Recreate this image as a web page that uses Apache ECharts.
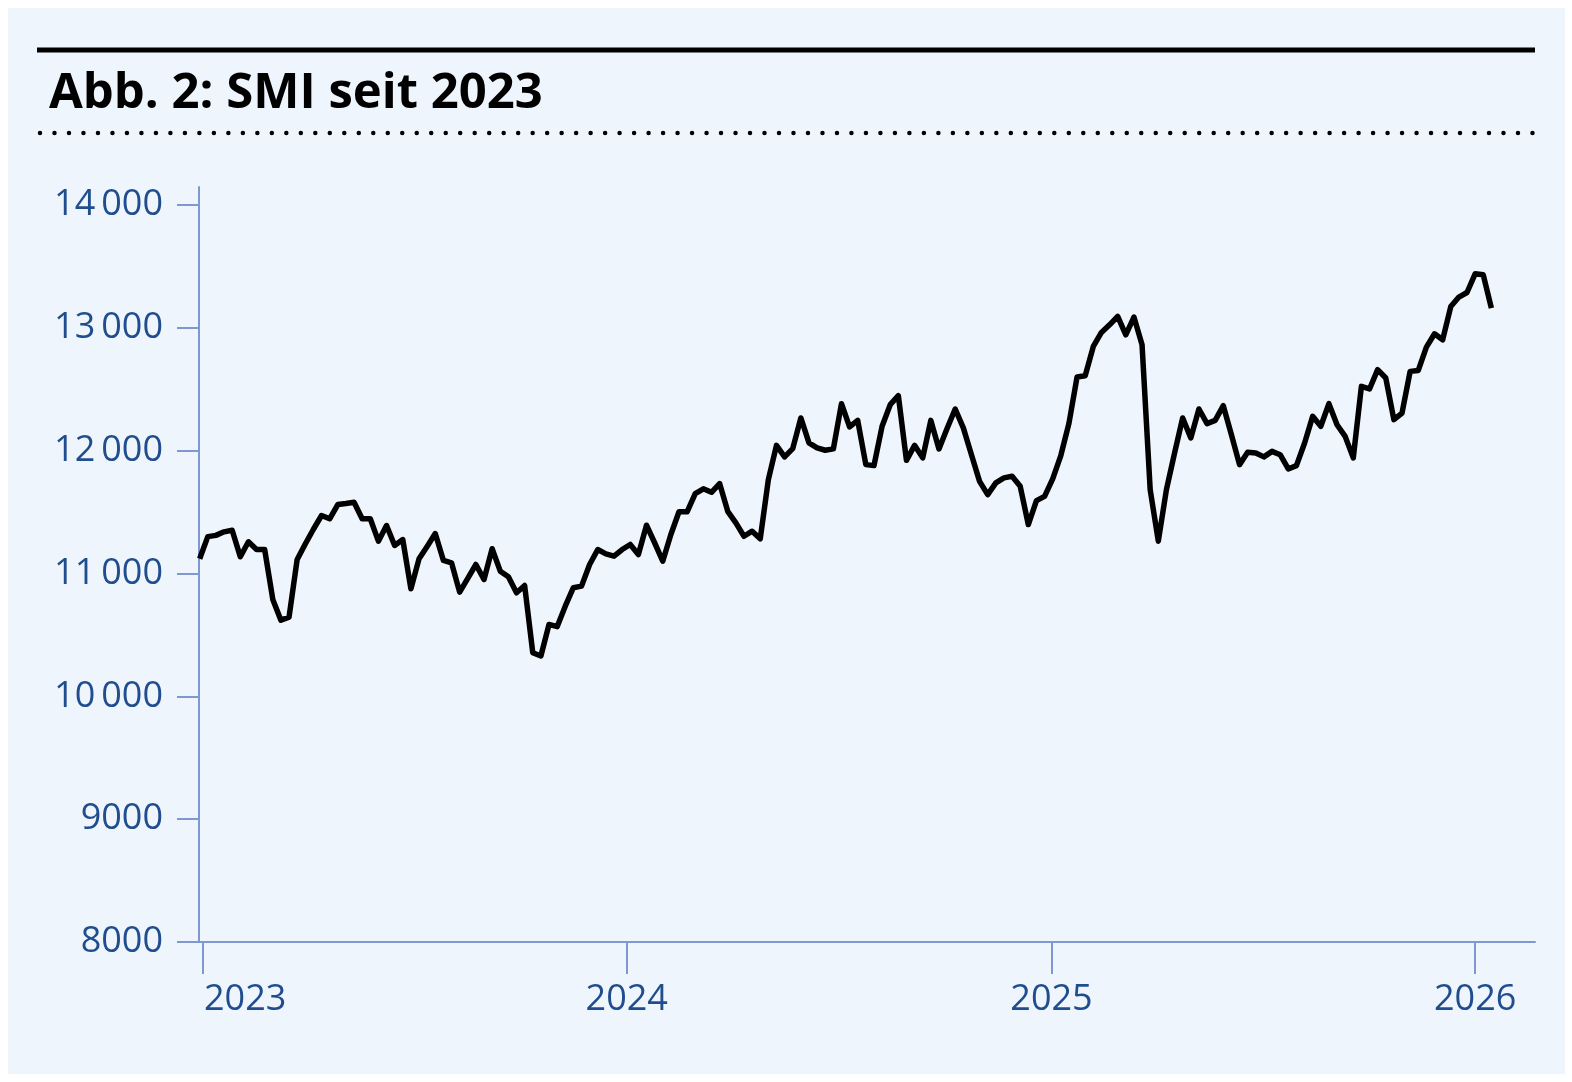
<!DOCTYPE html>
<html>
<head>
<meta charset="utf-8">
<script src="https://cdn.jsdelivr.net/npm/echarts@6/dist/echarts.min.js"></script>
<style>
  html, body { margin: 0; padding: 0; background: #ffffff; }
  #panel { position: absolute; left: 8px; top: 8px; width: 1557px; height: 1066px; background: #eff5fc; }
  #chart { position: absolute; left: 0; top: 0; width: 1572px; height: 1082px; }
</style>
</head>
<body>
<div id="panel"></div>
<div id="chart"></div>
<script>
// ---- data (weekly SMI closes) ----
const titleText = 'Abb. 2: SMI seit 2023';
const firstWeek = [2022, 11, 29]; // year, monthIndex, day of first weekly point
const smiValues = [
  11120, 11300, 11310, 11339, 11352, 11136, 11258, 11195, 11195, 10789,
  10620, 10645, 11114, 11240, 11360, 11472, 11445, 11561, 11569, 11580,
  11445, 11445, 11263, 11390, 11228, 11276, 10875, 11119, 11220, 11325,
  11106, 11087, 10848, 10960, 11073, 10951, 11201, 11019, 10973, 10843,
  10902, 10355, 10328, 10585, 10567, 10734, 10884, 10897, 11073, 11195,
  11160, 11141, 11195, 11236, 11154, 11393, 11250, 11100, 11317, 11502,
  11502, 11650, 11689, 11661, 11732, 11506, 11412, 11303, 11344, 11282,
  11764, 12043, 11949, 12016, 12266, 12063, 12022, 12003, 12014, 12382,
  12193, 12246, 11886, 11878, 12198, 12374, 12447, 11921, 12043, 11941,
  12246, 12014, 12180, 12339, 12185, 11967, 11750, 11642, 11737, 11778,
  11791, 11710, 11398, 11593, 11628, 11770, 11960, 12222, 12599, 12610,
  12848, 12962, 13024, 13092, 12943, 13087, 12862, 11683, 11263, 11683,
  11980, 12266, 12103, 12339, 12220, 12246, 12366, 12130, 11886, 11986,
  11981, 11949, 11994, 11967, 11851, 11878, 12060, 12279, 12198, 12382,
  12211, 12116, 11941, 12523, 12502, 12659, 12591, 12252, 12306, 12645,
  12653, 12843, 12951, 12902, 13173, 13250, 13287, 13439, 13431, 13160
];
const yTicks = [8000, 9000, 10000, 11000, 12000, 13000, 14000];
const yearTicks = [2023, 2024, 2025, 2026];

// ---- build ----
const seriesData = smiValues.map((v, i) =>
  [new Date(firstWeek[0], firstWeek[1], firstWeek[2] + 7 * i).getTime(), v]);
const xTickValues = yearTicks.map(y => new Date(y, 0, 1).getTime());

const axisBlue = '#7d98d3';
const labelBlue = '#1f4d8e';
const labelFont = 'Open Sans';

function fmtY(v) {
  if (v >= 10000) {
    const th = Math.floor(v / 1000);
    const rest = String(v % 1000).padStart(3, '0');
    return th + '\u2009' + rest;
  }
  return String(v);
}

const chart = echarts.init(document.getElementById('chart'), null, { renderer: 'canvas' });
chart.setOption({
  animation: false,
  backgroundColor: 'transparent',
  title: {
    text: titleText,
    left: 44,
    top: 65,
    textStyle: { fontFamily: labelFont, fontWeight: 'bold', fontSize: 49, color: '#000' }
  },
  graphic: [
    { type: 'line', shape: { x1: 37, y1: 50, x2: 1535, y2: 50 },
      style: { stroke: '#000', lineWidth: 5 } },
    { type: 'line', shape: { x1: 40, y1: 133, x2: 1534, y2: 133 },
      style: { stroke: '#000', lineWidth: 4.5, lineCap: 'round', lineDash: [0, 14.49] } }
  ],
  grid: { left: 199, right: 37, top: 187, bottom: 140, containLabel: false },
  xAxis: {
    type: 'value',
    min: new Date(2022, 11, 28, 10).getTime(),
    max: new Date(2026, 1, 21, 14).getTime(),
    axisLine: { show: true, lineStyle: { color: axisBlue, width: 2 } },
    axisTick: { show: true, length: 32, lineStyle: { color: axisBlue, width: 2 }, customValues: xTickValues },
    splitLine: { show: false },
    axisLabel: {
      customValues: xTickValues,
      margin: 40,
      fontFamily: labelFont,
      fontSize: 36,
      color: labelBlue,
      formatter: function (v) {
        const y = new Date(v).getFullYear();
        return y === yearTicks[0] ? '{first|' + y + '}' : String(y);
      },
      rich: {
        first: { padding: [0, 0, 0, 84], fontFamily: labelFont, fontSize: 36, color: labelBlue }
      }
    }
  },
  yAxis: {
    type: 'value',
    min: 8000,
    max: 14146,
    axisLine: { show: true, lineStyle: { color: axisBlue, width: 2 } },
    axisTick: { show: true, length: 22, lineStyle: { color: axisBlue, width: 2 }, customValues: yTicks },
    splitLine: { show: false },
    axisLabel: {
      customValues: yTicks,
      margin: 36,
      fontFamily: labelFont,
      fontSize: 36,
      color: labelBlue,
      formatter: fmtY
    }
  },
  series: [{
    type: 'line',
    data: seriesData,
    showSymbol: false,
    symbol: 'none',
    clip: true,
    lineStyle: { color: '#000', width: 5.5, join: 'round', cap: 'butt' }
  }]
});
</script>
</body>
</html>
